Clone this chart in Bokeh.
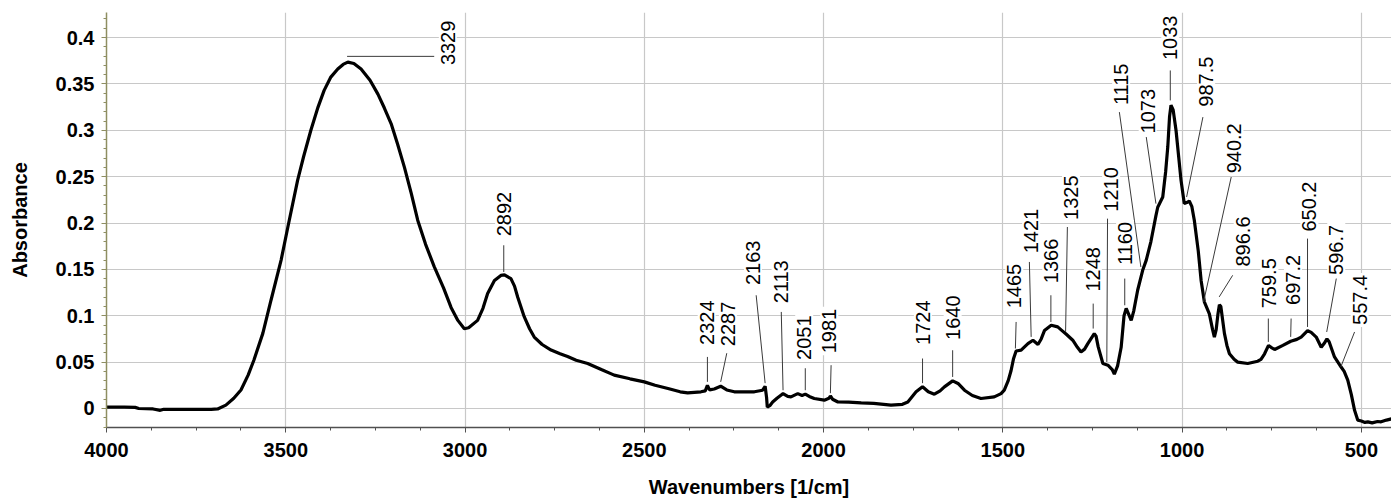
import math
from bokeh.plotting import figure
from bokeh.models import Range1d, SingleIntervalTicker, CustomJSTickFormatter, Label
from bokeh.embed import file_html
from bokeh.resources import INLINE

# ---- spectrum (wavenumber [1/cm], absorbance) ----
wavenumber = [4000, 3950, 3920, 3910, 3870, 3850, 3840, 3780, 3736, 3708, 3690, 3667, 3645, 3625,
              3605, 3589, 3564, 3541, 3513, 3494, 3467, 3450, 3430, 3410, 3393, 3375, 3355, 3340,
              3327, 3310, 3290, 3265, 3243, 3225, 3206, 3188, 3169, 3150, 3132, 3110, 3086, 3060,
              3039, 3020, 3002, 2990, 2965, 2950, 2937, 2918, 2900, 2890, 2872, 2862, 2853, 2835,
              2820, 2807, 2785, 2760, 2735, 2714, 2690, 2658, 2620, 2584, 2540, 2500, 2470, 2434,
              2400, 2379, 2342, 2330, 2324, 2318, 2305, 2287, 2270, 2249, 2193, 2170, 2163, 2159,
              2157, 2150, 2142, 2130, 2119, 2113, 2100, 2091, 2072, 2060, 2051, 2040, 2026, 1998,
              1985, 1981, 1975, 1960, 1930, 1895, 1860, 1812, 1780, 1765, 1742, 1724, 1708, 1691,
              1675, 1663, 1640, 1625, 1607, 1585, 1561, 1524, 1505, 1496, 1485, 1477, 1470, 1463,
              1449, 1430, 1416, 1402, 1393, 1384, 1365, 1347, 1335, 1323, 1305, 1292, 1282, 1272,
              1263, 1245, 1240, 1234, 1221, 1207, 1195, 1189, 1180, 1170, 1162, 1156, 1142, 1135,
              1124, 1110, 1100, 1087, 1073, 1068, 1054, 1046, 1040, 1035, 1031, 1025, 1017, 1003,
              994, 987, 980, 973, 966, 955, 947, 938, 924, 915, 910, 905, 900, 896, 892, 882, 875,
              868, 855, 845, 817, 789, 780, 770, 759, 752, 742, 719, 697, 680, 668, 650, 640, 626,
              612, 604, 596, 590, 575, 557, 548, 538, 528, 519, 510, 500, 490, 482, 470, 455, 445,
              430, 414]
absorbance = [0.0015, 0.0015, 0.0012, 0.0000, -0.0005, -0.0020, -0.0008, -0.0010, -0.0008, -0.0010,
              -0.0005, 0.0036, 0.011, 0.020, 0.036, 0.052, 0.081, 0.117, 0.160, 0.196, 0.246, 0.272,
              0.300, 0.325, 0.343, 0.357, 0.366, 0.371, 0.3735, 0.372, 0.366, 0.354, 0.339, 0.324,
              0.307, 0.285, 0.260, 0.232, 0.203, 0.177, 0.153, 0.130, 0.109, 0.095, 0.086, 0.087,
              0.095, 0.108, 0.124, 0.138, 0.1435, 0.1440, 0.140, 0.132, 0.120, 0.099, 0.086, 0.077,
              0.069, 0.063, 0.059, 0.056, 0.052, 0.0485, 0.042, 0.036, 0.032, 0.0287, 0.025, 0.0215,
              0.018, 0.0168, 0.018, 0.019, 0.025, 0.020, 0.021, 0.024, 0.020, 0.018, 0.018, 0.0197,
              0.024, 0.012, 0.0015, 0.003, 0.007, 0.011, 0.0143, 0.016, 0.013, 0.0125, 0.016, 0.014,
              0.0155, 0.013, 0.0108, 0.009, 0.011, 0.0135, 0.010, 0.007, 0.0068, 0.006, 0.0055,
              0.0036, 0.0045, 0.007, 0.018, 0.0235, 0.018, 0.0154, 0.019, 0.0233, 0.0298, 0.027,
              0.0197, 0.014, 0.0108, 0.0125, 0.016, 0.0197, 0.030, 0.041, 0.054, 0.062, 0.063, 0.070,
              0.0736, 0.069, 0.075, 0.084, 0.0898, 0.088, 0.084, 0.080, 0.0736, 0.066, 0.061, 0.064,
              0.070, 0.0808, 0.078, 0.0664, 0.0485, 0.0467, 0.042, 0.037, 0.046, 0.066, 0.100, 0.108,
              0.095, 0.105, 0.1275, 0.149, 0.160, 0.180, 0.208, 0.217, 0.228, 0.255, 0.282, 0.315,
              0.327, 0.322, 0.300, 0.246, 0.221, 0.222, 0.2237, 0.218, 0.203, 0.170, 0.138, 0.115,
              0.102, 0.085, 0.077, 0.085, 0.102, 0.112, 0.110, 0.081, 0.068, 0.059, 0.053, 0.050,
              0.0485, 0.051, 0.053, 0.059, 0.068, 0.066, 0.0636, 0.068, 0.0725, 0.0745, 0.077, 0.084,
              0.082, 0.077, 0.066, 0.070, 0.075, 0.072, 0.0556, 0.045, 0.040, 0.0305, 0.015, -0.002,
              -0.0126, -0.0135, -0.0150, -0.0144, -0.0155, -0.0140, -0.0144, -0.0125, -0.011]

# ---- peak annotations ----
peak_labels = ["3329", "2892", "2324", "2287", "2163", "2113", "2051", "1981", "1724", "1640",
               "1465", "1421", "1366", "1325", "1248", "1210", "1160", "1115", "1073", "1033",
               "987.5", "940.2", "896.6", "759.5", "697.2", "650.2", "596.7", "557.4"]
peak_wn = [3329, 2892, 2324, 2287, 2163, 2113, 2051, 1981, 1724, 1640, 1465, 1421, 1366, 1325,
           1248, 1210, 1160, 1115, 1073, 1033, 987.5, 940.2, 896.6, 759.5, 697.2, 650.2, 596.7, 557.4]
leader_end_abs = [0.3797, 0.1472, 0.0287, 0.0287, 0.0273, 0.0197, 0.0197, 0.0165, 0.0273, 0.034,
                  0.0647, 0.0772, 0.0933, 0.0825, 0.0862, 0.0502, 0.1113, 0.1526, 0.2209, 0.3322,
                  0.228, 0.1149, 0.1203, 0.0718, 0.0772, 0.0879, 0.0825, 0.0448]
leader_start_wn = [3086, 2892, 2324, 2270, 2188, 2118, 2051, 1979, 1724, 1640, 1463, 1426, 1366, 1320,
                   1248, 1208, 1160, 1175, 1100, 1033, 942, 863, 859, 759.5, 696, 650.2, 570, 519]
leader_start_abs = [0.3797, 0.176, 0.0556, 0.0596, 0.1221, 0.1041, 0.0434, 0.0467, 0.0539, 0.0628,
                    0.0933, 0.158, 0.1221, 0.1957, 0.1131, 0.2047, 0.1401, 0.3196, 0.2927, 0.3645,
                    0.3142, 0.2496, 0.1436, 0.097, 0.097, 0.1832, 0.1401, 0.0825]
label_wn = [3048, 2891, 2326, 2267, 2197, 2120, 2054, 1984, 1723, 1640, 1468, 1421, 1365, 1310,
            1249, 1198, 1159, 1170, 1096, 1033, 933, 854, 831, 756.5, 691, 645, 570, 505]
label_abs = [0.3681, 0.1835, 0.0664, 0.065, 0.131, 0.1113, 0.0502, 0.0574, 0.0664, 0.0718,
             0.1059, 0.1652, 0.1329, 0.2011, 0.1239, 0.2101, 0.1526, 0.325, 0.2945, 0.3735,
             0.3233, 0.2514, 0.1509, 0.1059, 0.1095, 0.1886, 0.1418, 0.0879]

FONT = "Liberation Sans"

p = figure(width=1391, height=502, x_range=Range1d(4000, 416), y_range=Range1d(-0.0205, 0.427),
           output_backend="svg", toolbar_location=None,
           min_border_left=106, min_border_right=0, min_border_top=12, min_border_bottom=75)
p.outline_line_color = None
p.background_fill_color = "white"

p.xaxis.ticker = SingleIntervalTicker(interval=500, num_minor_ticks=4)
p.yaxis.ticker = SingleIntervalTicker(interval=0.05, num_minor_ticks=5)
p.yaxis.formatter = CustomJSTickFormatter(code="return String(Number(tick.toFixed(2)));")

for ax, col in ((p.xaxis, "#505050"), (p.yaxis, "#8e8e62")):
    ax.axis_line_color = col
    ax.axis_line_width = 1.5
    ax.major_tick_line_color = col
    ax.minor_tick_line_color = col
    ax.major_tick_in = 0
    ax.major_tick_out = 5
    ax.minor_tick_in = 0
    ax.minor_tick_out = 3
    ax.major_label_text_font = FONT
    ax.major_label_text_font_style = "bold"
    ax.major_label_text_font_size = "20px"
    ax.major_label_text_color = "black"
    ax.axis_label_text_font = FONT
    ax.axis_label_text_font_style = "bold"
    ax.axis_label_text_font_size = "20px"
    ax.axis_label_text_color = "black"

p.xaxis.axis_label = "Wavenumbers [1/cm]"
p.yaxis.axis_label = "Absorbance"
p.xaxis.major_label_standoff = 10
p.yaxis.major_label_standoff = 7
p.xaxis.axis_label_standoff = 16
p.yaxis.axis_label_standoff = 22

p.xgrid.grid_line_color = "#c8c8c8"
p.ygrid.grid_line_color = "#c8c8c8"
p.xgrid.grid_line_width = 1.2
p.ygrid.grid_line_width = 1.2

p.line(wavenumber, absorbance, line_color="black", line_width=3.2)

p.segment(x0=leader_start_wn, y0=leader_start_abs, x1=peak_wn, y1=leader_end_abs,
          line_color="#3a3a3a", line_width=1)

for t, lx, ly in zip(peak_labels, label_wn, label_abs):
    p.add_layout(Label(x=lx, y=ly, text=t, angle=math.pi / 2, text_align="left",
                       text_baseline="middle", text_font=FONT, text_font_size="20px",
                       text_color="black", background_fill_color="white", padding=2))

open("out.html", "w").write(file_html(p, INLINE))
